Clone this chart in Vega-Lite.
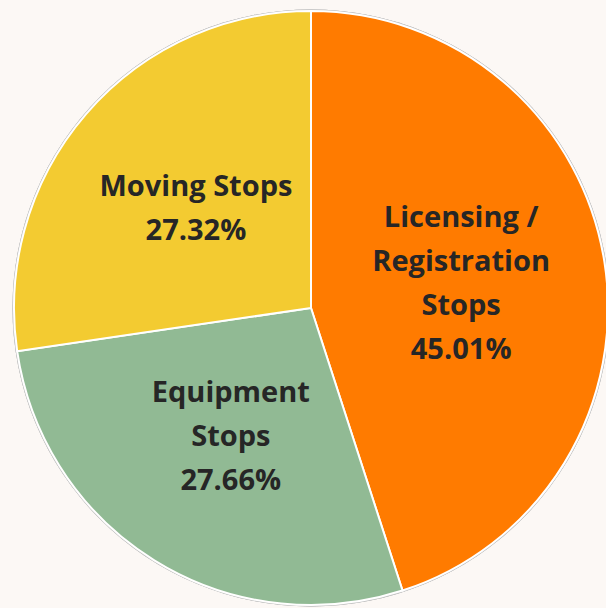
{
  "$schema": "https://vega.github.io/schema/vega-lite/v6.json",
  "width": 590,
  "height": 600,
  "autosize": "none",
  "padding": {"left": 16, "top": 8, "right": 0, "bottom": 0},
  "background": "#fcf8f5",
  "config": {"view": {"stroke": null}},
  "data": {
    "values": [
      {"ord": 1, "category": "Licensing / Registration Stops", "pct": 45.01, "label": "Licensing /\nRegistration\nStops\n45.01%"},
      {"ord": 2, "category": "Equipment Stops", "pct": 27.66, "label": "Equipment\nStops\n27.66%"},
      {"ord": 3, "category": "Moving Stops", "pct": 27.32, "label": "Moving Stops\n27.32%"}
    ]
  },
  "encoding": {
    "theta": {"field": "pct", "type": "quantitative", "stack": true},
    "order": {"field": "ord", "type": "quantitative"}
  },
  "layer": [
    {
      "mark": {"type": "arc", "theta": 0, "theta2": 6.2832, "outerRadius": 298.5, "fill": "#c4c4c4", "stroke": null},
      "encoding": {"theta": null, "order": null}
    },
    {
      "mark": {"type": "arc", "outerRadius": 297, "stroke": "#ffffff", "strokeWidth": 2},
      "encoding": {
        "color": {
          "field": "category",
          "type": "nominal",
          "scale": {
            "domain": ["Licensing / Registration Stops", "Equipment Stops", "Moving Stops"],
            "range": ["#ff7b00", "#91ba94", "#f3cb31"]
          },
          "legend": null
        }
      }
    },
    {
      "mark": {"type": "text", "radius": 152, "font": "Open Sans", "fontWeight": "bold", "fontSize": 29, "lineHeight": 44, "lineBreak": "\n", "color": "#262626", "align": "center", "baseline": "middle",
        "dy": {"expr": "-(length(split(datum.label, '\\n')) - 1) * 22"}},
      "encoding": {"text": {"field": "label", "type": "nominal"}}
    }
  ]
}
